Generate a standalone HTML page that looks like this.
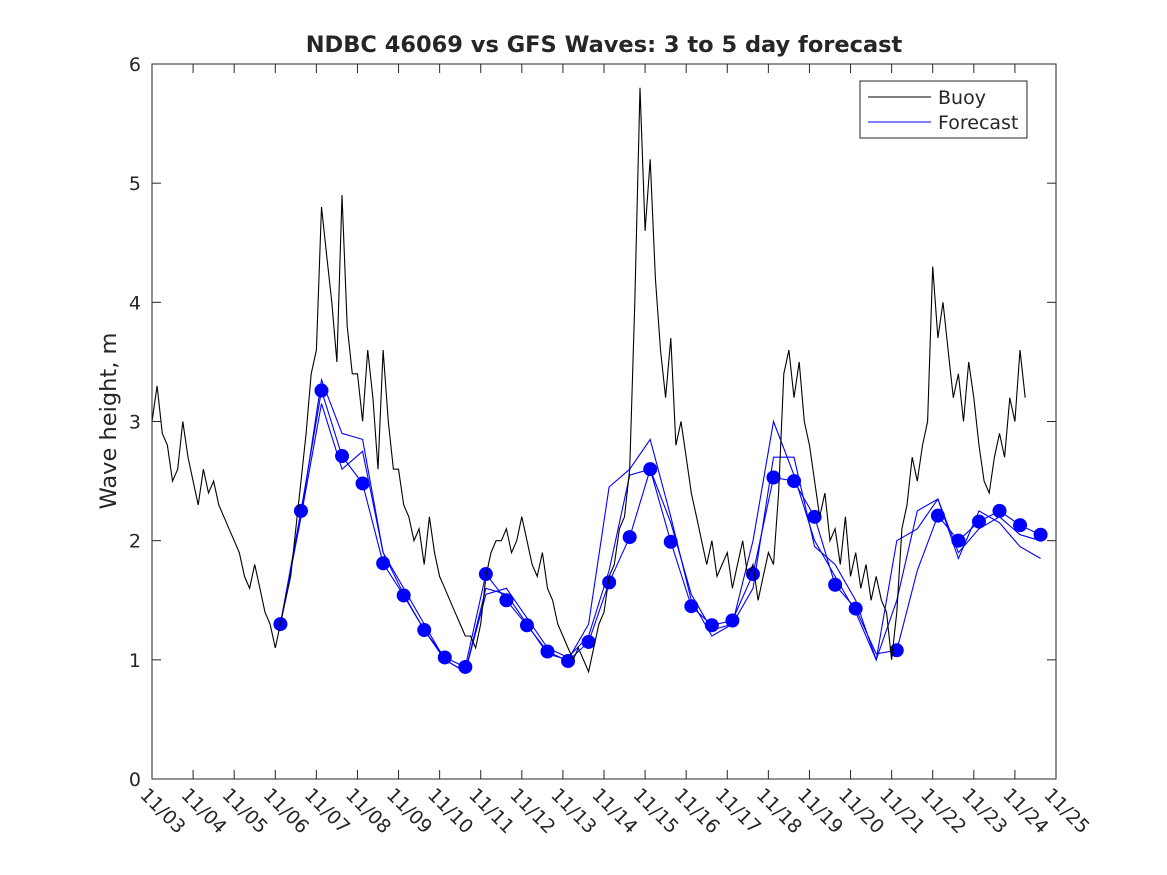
<!DOCTYPE html>
<html><head><meta charset="utf-8"><style>body{margin:0;background:#fff}svg{display:block}text{font-family:"DejaVu Sans","Liberation Sans",sans-serif;fill:#262626}</style></head>
<body>
<svg id="chart" width="1167" height="875" viewBox="0 0 1167 875" xmlns="http://www.w3.org/2000/svg">
<rect width="1167" height="875" fill="#fff"/>
<text x="604" y="52" text-anchor="middle" font-size="22.5" font-weight="bold" fill="#000">NDBC 46069 vs GFS Waves: 3 to 5 day forecast</text>
<text transform="translate(116,421) rotate(-90)" text-anchor="middle" font-size="22.5">Wave height, m</text>
<g id="plot"></g>
</svg>
<script>
const xTickLabels=["11/03","11/04","11/05","11/06","11/07","11/08","11/09","11/10","11/11","11/12","11/13","11/14","11/15","11/16","11/17","11/18","11/19","11/20","11/21","11/22","11/23","11/24","11/25"];
const yTicks=[0,1,2,3,4,5,6];
// buoy, 3-hourly from 11/03 00:00
const buoy=[3.0,3.3,2.9,2.8,2.5,2.6,3.0,2.7,
2.5,2.3,2.6,2.4,2.5,2.3,2.2,2.1,
2.0,1.9,1.7,1.6,1.8,1.6,1.4,1.3,
1.1,1.3,1.5,1.7,2.1,2.5,2.9,3.4,
3.6,4.8,4.4,4.0,3.5,4.9,3.8,3.4,
3.4,3.0,3.6,3.2,2.6,3.6,3.0,2.6,
2.6,2.3,2.2,2.0,2.1,1.8,2.2,1.9,
1.7,1.6,1.5,1.4,1.3,1.2,1.2,1.1,
1.3,1.7,1.9,2.0,2.0,2.1,1.9,2.0,
2.2,2.0,1.8,1.7,1.9,1.6,1.5,1.3,
1.2,1.1,1.0,1.1,1.0,0.9,1.1,1.3,
1.4,1.7,1.8,2.1,2.2,2.6,4.0,5.8,
4.6,5.2,4.2,3.6,3.2,3.7,2.8,3.0,
2.7,2.4,2.2,2.0,1.8,2.0,1.7,1.8,
1.9,1.6,1.8,2.0,1.7,1.8,1.5,1.7,
1.9,1.8,2.4,3.4,3.6,3.2,3.5,3.0,
2.8,2.5,2.2,2.4,2.0,2.1,1.8,2.2,
1.7,1.9,1.6,1.8,1.5,1.7,1.5,1.4,
1.0,1.4,2.1,2.3,2.7,2.5,2.8,3.0,
4.3,3.7,4.0,3.6,3.2,3.4,3.0,3.5,
3.2,2.8,2.5,2.4,2.7,2.9,2.7,3.2,
3.0,3.6,3.2];
// forecasts, 12-hourly from 11/06 03:00
const forecast1=[1.30,2.25,3.26,2.71,2.48,1.81,1.54,1.25,1.02,0.94,1.72,1.50,1.29,1.07,0.99,1.15,1.65,2.03,2.60,1.99,1.45,1.29,1.33,1.72,2.53,2.50,2.20,1.63,1.43,1.05,1.08,1.75,2.21,2.00,2.16,2.25,2.13,2.05];
const forecast1Markers=[1.30,2.25,3.26,2.71,2.48,1.81,1.54,1.25,1.02,0.94,1.72,1.50,1.29,1.07,0.99,1.15,1.65,2.03,2.60,1.99,1.45,1.29,1.33,1.72,2.53,2.50,2.20,1.63,1.43,null,1.08,null,2.21,2.00,2.16,2.25,2.13,2.05];
const forecast2=[1.3,2.2,3.35,2.9,2.85,1.9,1.55,1.25,1.0,0.9,1.6,1.55,1.3,1.05,1.0,1.3,2.45,2.6,2.85,2.2,1.5,1.2,1.3,2.0,3.0,2.55,2.0,1.7,1.4,1.0,2.0,2.1,2.35,1.85,2.25,2.15,1.95,1.85];
const forecast3=[1.3,2.2,3.15,2.6,2.75,1.9,1.6,1.3,1.0,0.9,1.55,1.6,1.35,1.1,1.02,1.2,1.75,2.55,2.6,2.15,1.55,1.25,1.3,1.6,2.7,2.7,1.95,1.8,1.5,1.0,1.5,2.25,2.35,1.9,2.1,2.2,2.05,2.0];

const L=152,R=1056,T=64,B=779,NS="http://www.w3.org/2000/svg";
const xs=d=>L+(R-L)*d/22;
const ys=v=>B-(B-T)*v/6;
const g=document.getElementById('plot');
function mk(tag,at){const e=document.createElementNS(NS,tag);for(const k in at)e.setAttribute(k,at[k]);g.appendChild(e);return e;}
function line(arr,t0,dt,color,name){let d="";arr.forEach((v,i)=>{if(v==null)return;d+=(d?"L":"M")+xs(t0+i*dt).toFixed(1)+" "+ys(v).toFixed(1);});
const p=mk('path',{d:d,fill:'none',stroke:color,'stroke-width':1.1});

}
line(forecast2,3.125,0.5,'#0000ff','forecast-line-2');
line(forecast3,3.125,0.5,'#0000ff','forecast-line-3');
line(forecast1,3.125,0.5,'#0000ff','forecast-line-1');
forecast1Markers.forEach((v,i)=>{if(v==null)return;
const c=mk('circle',{cx:xs(3.125+i*0.5),cy:ys(v),r:7,fill:'#0000ff'});

});
line(buoy,0,0.125,'#000','buoy-line');
const bx=mk('rect',{x:L,y:T,width:R-L,height:B-T,fill:'none',stroke:'#262626','stroke-width':1});


yTicks.forEach(v=>{const y=ys(v);
mk('line',{x1:L,x2:L+9,y1:y,y2:y,stroke:'#262626'});mk('line',{x1:R,x2:R-9,y1:y,y2:y,stroke:'#262626'});
const t=mk('text',{x:L-11,y:y+7,'text-anchor':'end','font-size':19});t.textContent=v;

});
xTickLabels.forEach((s,i)=>{const x=xs(i);
mk('line',{x1:x,x2:x,y1:B,y2:B-9,stroke:'#262626'});mk('line',{x1:x,x2:x,y1:T,y2:T+9,stroke:'#262626'});
const t=mk('text',{transform:`translate(${x-13},${B+17}) rotate(45)`,'font-size':19});t.textContent=s;

});
const lg=mk('rect',{x:860,y:81,width:167,height:57,fill:'#fff',stroke:'#262626'});


mk('line',{x1:868,x2:931,y1:97,y2:97,stroke:'#000'});
mk('line',{x1:868,x2:931,y1:122,y2:122,stroke:'#0000ff'});
const l1=mk('text',{x:938,y:104,'font-size':19});l1.textContent='Buoy';


const l2=mk('text',{x:938,y:129,'font-size':19});l2.textContent='Forecast';


</script>
</body></html>
